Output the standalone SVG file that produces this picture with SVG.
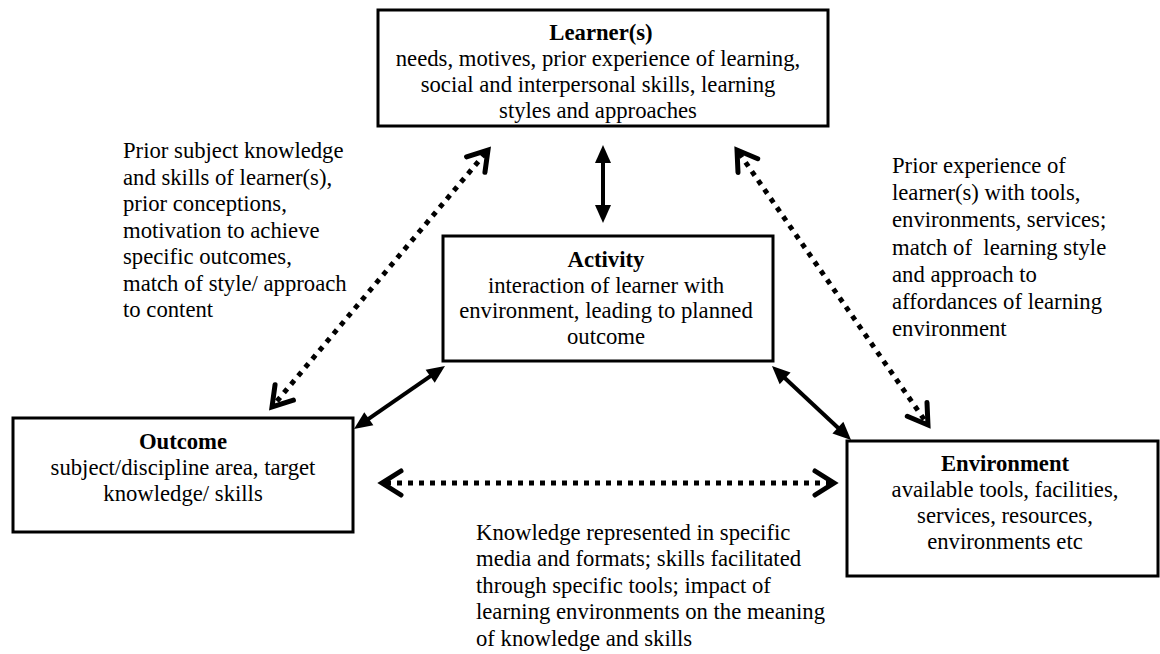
<svg xmlns="http://www.w3.org/2000/svg" width="1160" height="654" viewBox="0 0 1160 654">
<style>
.box{fill:#fff;stroke:#000;stroke-width:3}
text{font-family:"Liberation Serif","Times New Roman",serif;font-size:22.7px;fill:#000}
.c{text-anchor:middle}
.b{font-weight:bold}
.solid{stroke:#000;stroke-width:4;fill:none;marker-start:url(#ah);marker-end:url(#ah)}
.dot{stroke:#000;stroke-width:5;fill:none;stroke-dasharray:5 6;marker-start:url(#ch);marker-end:url(#ch)}
</style>
<defs>
<marker id="ah" markerUnits="userSpaceOnUse" viewBox="0 0 20 18" markerWidth="20" markerHeight="18" refX="10" refY="9" orient="auto-start-reverse" overflow="visible">
<path d="M0,1 L18,9 L0,17 z" fill="#000"/>
</marker>
<marker id="ch" markerUnits="userSpaceOnUse" viewBox="-6 -16 30 32" markerWidth="30" markerHeight="32" refX="14" refY="0" orient="auto-start-reverse" overflow="visible">
<path d="M-1,-12 L18,0 L-1,12" fill="none" stroke="#000" stroke-width="5" stroke-linecap="round" stroke-linejoin="miter"/>
</marker>
</defs>
<rect width="1160" height="654" fill="#fff"/>

<g id="connectors">
<line class="solid" x1="603" y1="153" x2="603" y2="215"/>
<line class="solid" x1="360.6" y1="424.4" x2="438.4" y2="370.6"/>
<line class="solid" x1="777.8" y1="371.5" x2="845.2" y2="434.5"/>
<line class="dot" x1="485.4" y1="153.1" x2="274.6" y2="403.9"/>
<line class="dot" x1="739.3" y1="153.3" x2="925.7" y2="421.7"/>
<line class="dot" x1="386" y1="483" x2="830" y2="483"/>
</g>

<g id="learner">
<rect class="box" x="378" y="10" width="450" height="116"/>
<text class="c b" x="601" y="40">Learner(s)</text>
<text class="c" x="598" y="66">needs, motives, prior experience of learning,</text>
<text class="c" x="598" y="92">social and interpersonal skills, learning</text>
<text class="c" x="598" y="118">styles and approaches</text>
</g>

<g id="activity">
<rect class="box" x="443" y="236" width="330" height="125"/>
<text class="c b" x="606" y="267">Activity</text>
<text class="c" x="606" y="293">interaction of learner with</text>
<text class="c" x="606" y="318">environment, leading to planned</text>
<text class="c" x="606" y="344">outcome</text>
</g>

<g id="outcome">
<rect class="box" x="13" y="418" width="340" height="114"/>
<text class="c b" x="183" y="449">Outcome</text>
<text class="c" x="183" y="475">subject/discipline area, target</text>
<text class="c" x="183" y="501">knowledge/ skills</text>
</g>

<g id="environment">
<rect class="box" x="847" y="441" width="311" height="135"/>
<text class="c b" x="1005" y="471">Environment</text>
<text class="c" x="1005" y="497">available tools, facilities,</text>
<text class="c" x="1005" y="523">services, resources,</text>
<text class="c" x="1005" y="549">environments etc</text>
</g>

<g id="label-left">
<text x="123" y="158">Prior subject knowledge</text>
<text x="123" y="185">and skills of learner(s),</text>
<text x="123" y="211">prior conceptions,</text>
<text x="123" y="238">motivation to achieve</text>
<text x="123" y="264">specific outcomes,</text>
<text x="123" y="291">match of style/ approach</text>
<text x="123" y="317">to content</text>
</g>

<g id="label-right">
<text x="892" y="173">Prior experience of</text>
<text x="892" y="200">learner(s) with tools,</text>
<text x="892" y="227">environments, services;</text>
<text x="892" y="255" xml:space="preserve" style="white-space:pre">match of  learning style</text>
<text x="892" y="282">and approach to</text>
<text x="892" y="309">affordances of learning</text>
<text x="892" y="336">environment</text>
</g>

<g id="label-bottom">
<text x="476" y="540">Knowledge represented in specific</text>
<text x="476" y="566">media and formats; skills facilitated</text>
<text x="476" y="593">through specific tools; impact of</text>
<text x="476" y="619">learning environments on the meaning</text>
<text x="476" y="646">of knowledge and skills</text>
</g>
</svg>
